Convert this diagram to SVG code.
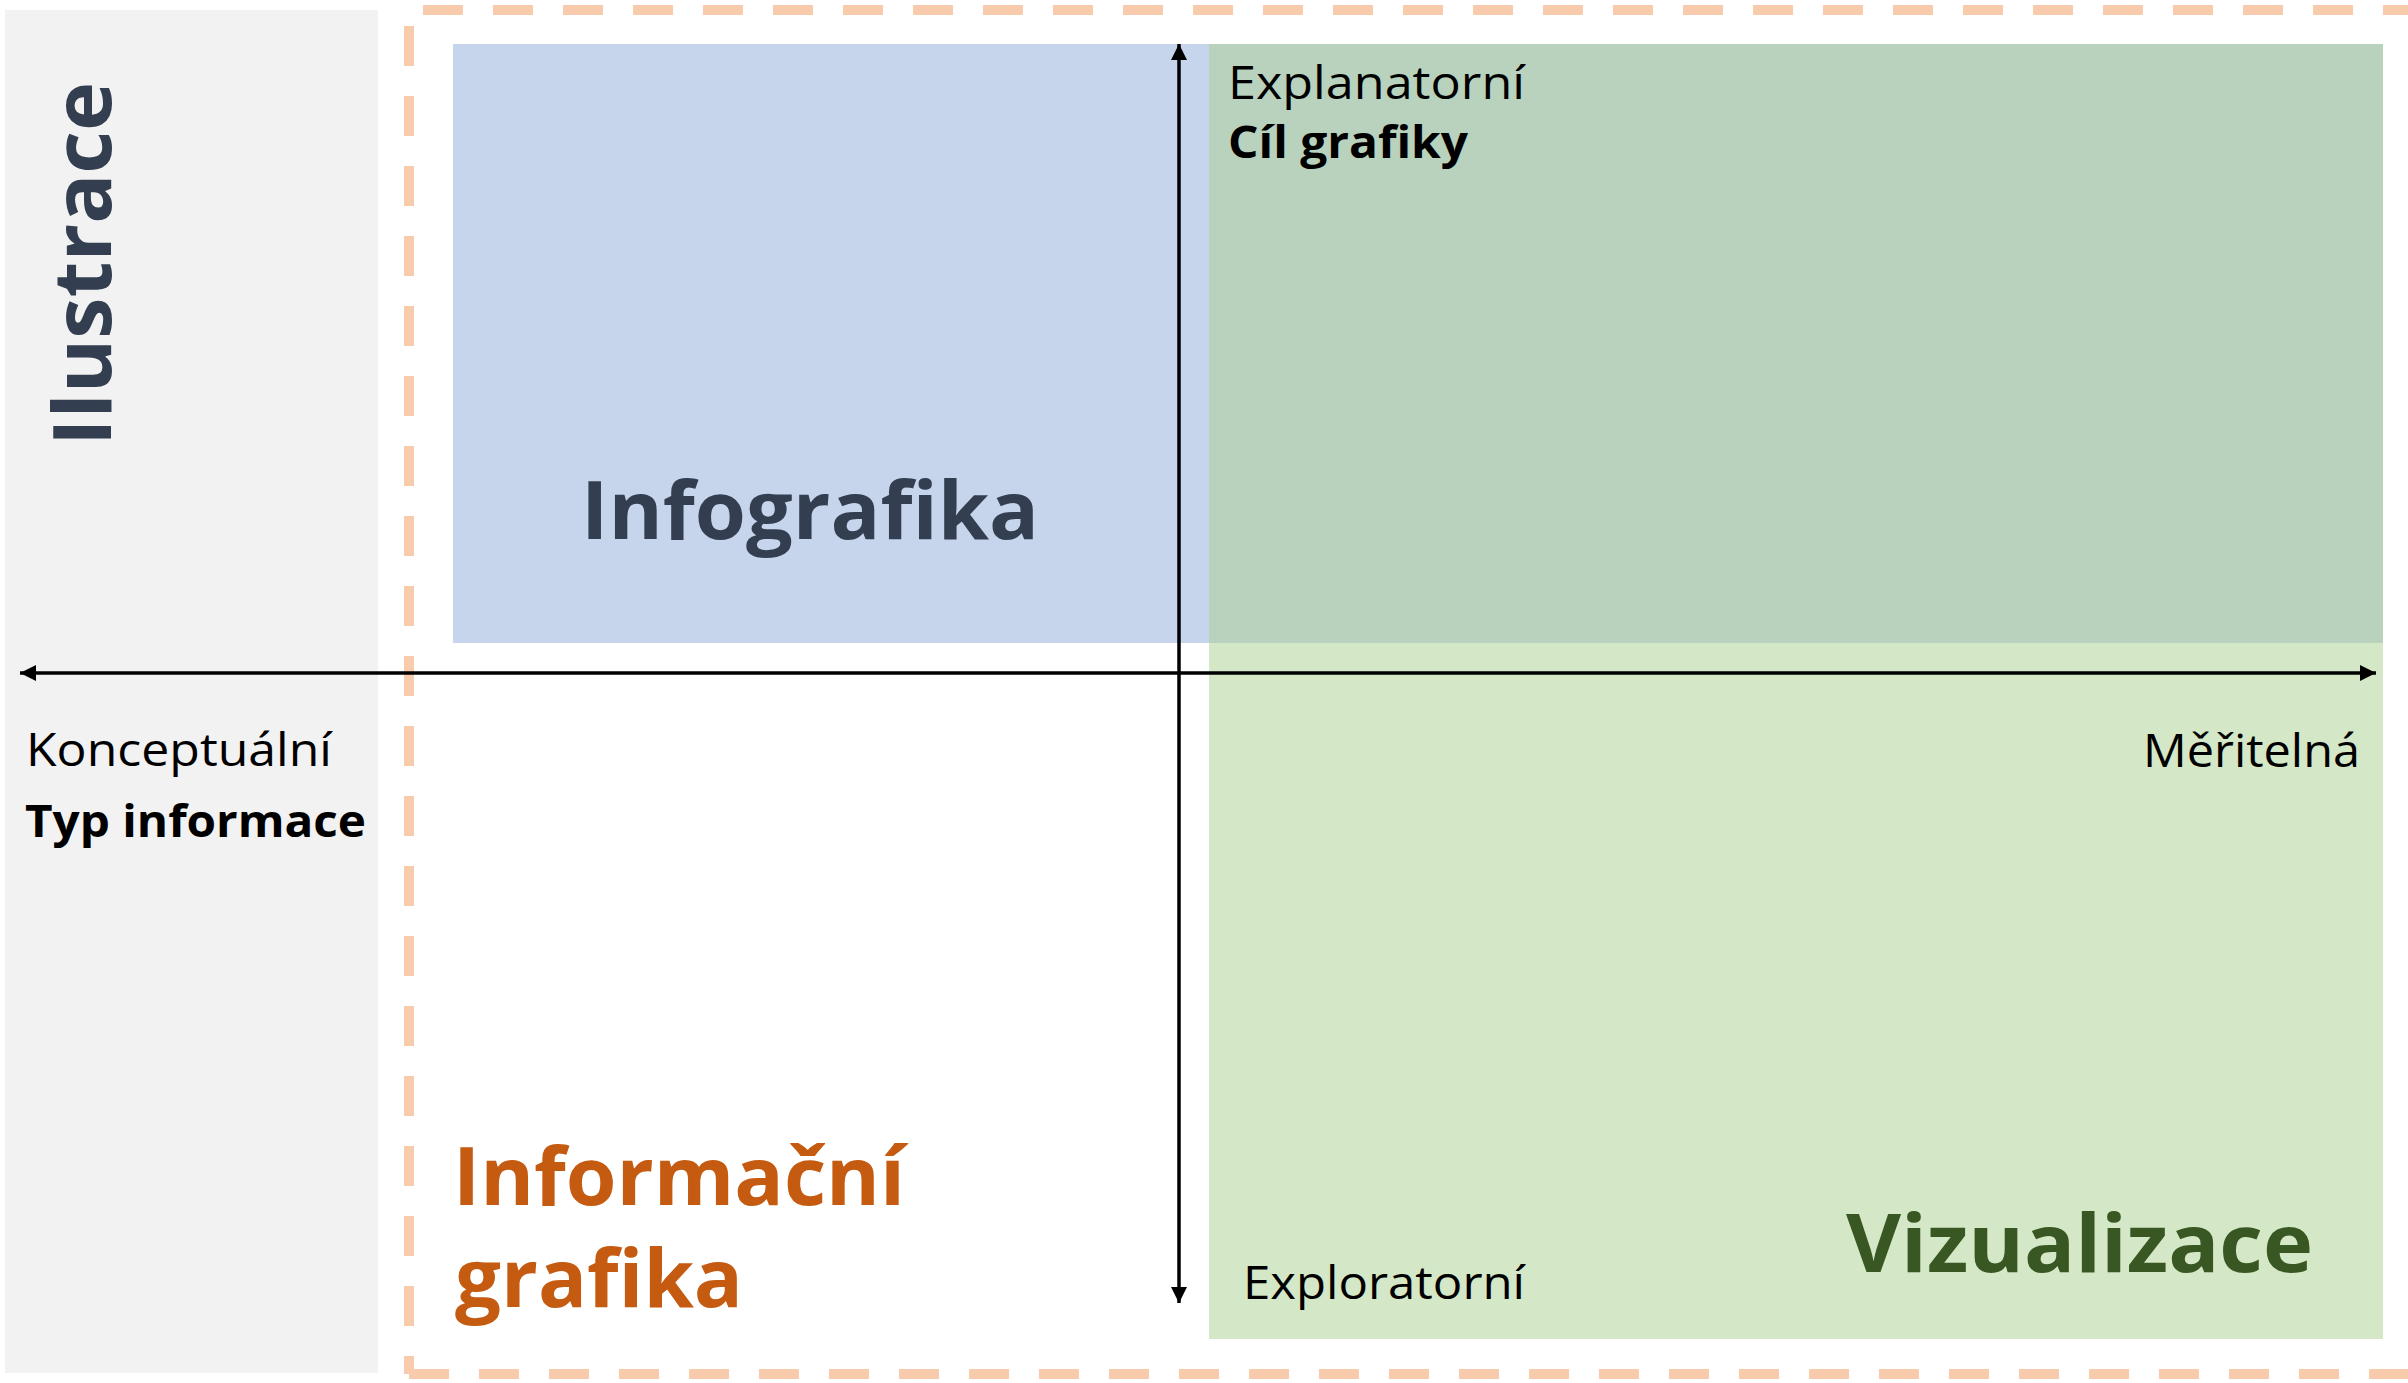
<svg xmlns="http://www.w3.org/2000/svg" width="2408" height="1383" viewBox="0 0 2408 1383">
<style>
.lbl{font-family:"Open Sans","Noto Sans","Liberation Sans",sans-serif;font-size:45px;fill:#000}
.b{font-weight:700}
.big{font-family:"Open Sans","Noto Sans","Liberation Sans",sans-serif;font-size:80px;font-weight:700}
.dash{stroke:#F8CBAD;stroke-width:10;stroke-dasharray:40 30;fill:none}
.axis{stroke:#000;stroke-width:3.5;fill:none}
</style>
<defs>
<marker id="arr" markerUnits="userSpaceOnUse" viewBox="0 0 16 16" markerWidth="16" markerHeight="16" refX="16" refY="8" orient="auto-start-reverse">
<path d="M0,0 L16,8 L0,16 z" fill="#000"/>
</marker>
</defs>
<rect width="2408" height="1383" fill="#FFFFFF"/>
<g id="ilustrace-panel">
<rect x="5" y="10" width="373" height="1363" fill="#F2F2F2"/>
<text class="big" fill="#333F50" transform="translate(111,446) rotate(-90)" textLength="364" lengthAdjust="spacingAndGlyphs">Ilustrace</text>
</g>
<g id="frame">
<line class="dash" x1="423" y1="10" x2="2408" y2="10"/>
<line class="dash" x1="409" y1="26" x2="409" y2="1374"/>
<line class="dash" x1="409" y1="1374" x2="2408" y2="1374"/>
</g>
<g id="infografika">
<rect x="453" y="44" width="756" height="599" fill="#C6D4EC"/>
<text class="big" fill="#333F50" x="581" y="539" textLength="458" lengthAdjust="spacingAndGlyphs">Infografika</text>
</g>
<g id="vizualizace">
<rect x="1209" y="44" width="1174" height="1295" fill="#D4E7C6"/>
<rect x="1209" y="44" width="1174" height="599" fill="#B9D2BD"/>
<text class="big" fill="#385723" x="1846" y="1272" textLength="467" lengthAdjust="spacingAndGlyphs">Vizualizace</text>
</g>
<g id="informacni-grafika">
<text class="big" fill="#C55A11" x="453" y="1205" textLength="452" lengthAdjust="spacingAndGlyphs">Informační</text>
<text class="big" fill="#C55A11" x="455" y="1307" textLength="288" lengthAdjust="spacingAndGlyphs">grafika</text>
</g>
<g id="connectors">
<line class="axis" x1="20" y1="673" x2="2376" y2="673" marker-start="url(#arr)" marker-end="url(#arr)"/>
<line class="axis" x1="1179" y1="44" x2="1179" y2="1303" marker-start="url(#arr)" marker-end="url(#arr)"/>
</g>
<g id="axis-labels">
<text class="lbl" x="26" y="766" textLength="306" lengthAdjust="spacingAndGlyphs">Konceptuální</text>
<text class="lbl b" x="25" y="837" textLength="341" lengthAdjust="spacingAndGlyphs">Typ informace</text>
<text class="lbl" x="2143" y="767" textLength="217" lengthAdjust="spacingAndGlyphs">Měřitelná</text>
<text class="lbl" x="1228" y="99" textLength="297" lengthAdjust="spacingAndGlyphs">Explanatorní</text>
<text class="lbl b" x="1228" y="158" textLength="240" lengthAdjust="spacingAndGlyphs">Cíl grafiky</text>
<text class="lbl" x="1243" y="1299" textLength="282" lengthAdjust="spacingAndGlyphs">Exploratorní</text>
</g>
</svg>
